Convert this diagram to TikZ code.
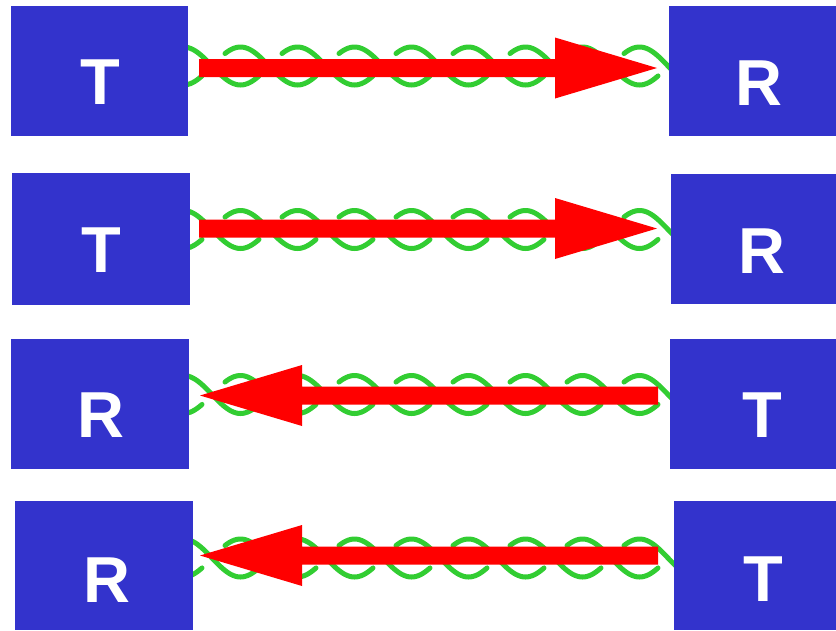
\documentclass[tikz,border=0pt]{standalone}
\usepackage{fontspec}
\setmainfont{Liberation Sans}
\definecolor{boxblue}{RGB}{51,51,204}
\definecolor{wiregreen}{RGB}{50,205,50}
\begin{document}
\begin{tikzpicture}[x=1pt,y=-1pt,
  box/.style={fill=boxblue, draw=none, inner sep=0pt, outer sep=0pt},
  lbl/.style={text=white, font=\fontsize{65}{65}\selectfont\bfseries, anchor=base, inner sep=0pt},
  wirestyle/.style={draw=wiregreen, line width=5pt, line cap=round},
  twist/.pic={
    \foreach \k in {-1,...,4}{
      \pgfmathsetmacro{\aA}{212+114*\k+13}
      \pgfmathsetmacro{\aB}{212+114*(\k+1)-10}
      \pgfmathsetmacro{\bA}{269+114*\k+13}
      \pgfmathsetmacro{\bB}{269+114*(\k+1)-10}
      \draw[wirestyle] plot[domain=\aA:\aB, samples=40, variable=\x, smooth] (\x,{-19*sin(3.15789*(\x-212))});
      \draw[wirestyle] plot[domain=\bA:\bB, samples=40, variable=\x, smooth] (\x,{19*sin(3.15789*(\x-212))});
    }
  },
  fatarrow/.pic={
    \fill[red] (0,-9) -- (356,-9) -- (356,-30.5) -- (458,0) -- (356,30.5) -- (356,9) -- (0,9) -- cycle;
  }]
\useasboundingbox (0,0) rectangle (836,630);

% twisted pairs
\begin{scope}
\clip (150,0) rectangle (700,630);
\pic at (0,66) {twist};
\pic at (0,229.5) {twist};
\pic at (0,394.5) {twist};
\pic at (0,558) {twist};
\end{scope}

% signal arrows
\coordinate (s1) at (199,68);
\coordinate (s2) at (199,228.5);
\coordinate (s3) at (658,395.5);
\coordinate (s4) at (658,555.5);
\pic at (s1) {fatarrow};
\pic at (s2) {fatarrow};
\pic[rotate=180] at (s3) {fatarrow};
\pic[rotate=180] at (s4) {fatarrow};

% boxes
\node[box, minimum width=177pt, minimum height=130pt] (L1) at (99.5,71) {};
\node[box, minimum width=167pt, minimum height=130pt] (R1) at (752.5,71) {};
\node[box, minimum width=178pt, minimum height=132pt] (L2) at (101,239) {};
\node[box, minimum width=165pt, minimum height=130pt] (R2) at (753.5,239) {};
\node[box, minimum width=178pt, minimum height=130pt] (L3) at (100,404) {};
\node[box, minimum width=166pt, minimum height=130pt] (R3) at (753,404) {};
\node[box, minimum width=178pt, minimum height=129pt] (L4) at (104,565.5) {};
\node[box, minimum width=162pt, minimum height=129pt] (R4) at (755,565.5) {};

% labels
\node[lbl] (L1t) at (100.5,104) {T};
\node[lbl] (R1t) at (758.5,105) {R};
\node[lbl] (L2t) at (101.5,272) {T};
\node[lbl] (R2t) at (761.5,273) {R};
\node[lbl] (L3t) at (101,437) {R};
\node[lbl] (R3t) at (762,437) {T};
\node[lbl] (L4t) at (107,602) {R};
\node[lbl] (R4t) at (763,601) {T};
\end{tikzpicture}
\end{document}
